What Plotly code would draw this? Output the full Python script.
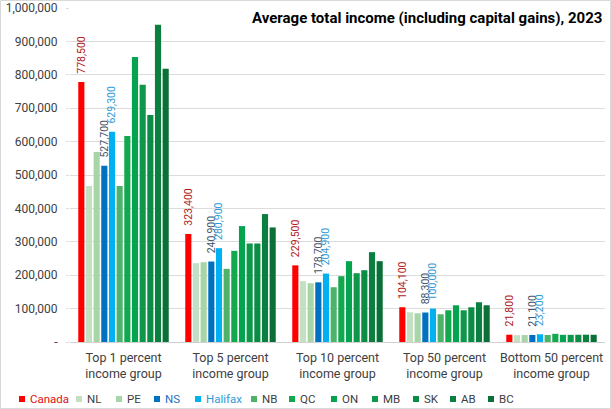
import plotly.graph_objects as go

groups = ["Top 1 percent<br>income group", "Top 5 percent<br>income group", "Top 10 percent<br>income group",
          "Top 50 percent<br>income group", "Bottom 50 percent<br>income group"]

series_names = ["Canada", "NL", "PE", "NS", "Halifax", "NB", "QC", "ON", "MB", "SK", "AB", "BC"]

canada  = [778500, 323400, 229500, 104100, 21800]
nl      = [467000, 236000, 182000, 89000, 20500]
pe      = [569000, 239000, 176000, 86000, 20800]
ns      = [527700, 240900, 178700, 88300, 21100]
halifax = [629300, 280900, 204900, 100000, 23200]
nb      = [467000, 219000, 164000, 83000, 21000]
qc      = [617000, 273000, 197000, 95000, 24500]
on      = [853000, 347000, 242000, 110000, 21500]
mb      = [770000, 295000, 206000, 95000, 21500]
sk      = [680000, 295000, 215000, 104000, 21700]
ab      = [950000, 383000, 269000, 119000, 21900]
bc      = [818000, 343000, 242000, 110000, 21600]

values = [canada, nl, pe, ns, halifax, nb, qc, on, mb, sk, ab, bc]

colors = ["#FF0000", "#C3E0C3", "#A8D5A8", "#0070C0", "#00B0F0", "#4DB36A",
          "#12A84E", "#03A350", "#0C9848", "#0B8C44", "#0A7F3F", "#0A7037"]
label_colors = {"Canada": "#B02020", "NS": "#44546A", "Halifax": "#2E9AD8"}
legend_text_colors = {"Canada": "#E01010", "NS": "#1F6FC0", "Halifax": "#2E9AD8"}

# legend entry positions (pixels, square left edge) in the 611px-wide figure
legend_px = [19, 76, 116, 154, 195, 251, 289, 331, 372, 413, 450, 488]

FONT = "Roboto, Arial, sans-serif"
L, R, T, B = 70, 6, 8, 67
W, H = 611, 409
PW, PH = W - L - R, H - T - B

def px_x(p):
    return (p - L) / PW

def px_y(p):
    return (H - B - p) / PH

fig = go.Figure()
for name, vals, col in zip(series_names, values, colors):
    show_lbl = name in label_colors
    fig.add_trace(go.Bar(
        x=groups, y=vals, name=name, marker=dict(color=col, line=dict(width=0)),
        text=["\u00a0\u00a0" + f"{v:,}" for v in vals] if show_lbl else None,
        textposition="outside" if show_lbl else "none",
        textangle=-90,
        constraintext="none",
        cliponaxis=False,
        textfont=dict(size=10.5, color=label_colors.get(name, "#444"), family=FONT),
        showlegend=False,
    ))

annotations = [dict(text="<b>Average total income (including capital gains), 2023</b>",
                    xref="paper", yref="paper", x=px_x(604), y=px_y(18), xanchor="right", yanchor="middle",
                    showarrow=False, font=dict(size=15, color="#000000", family=FONT))]
shapes = [dict(type="rect", xref="paper", yref="paper",
               x0=px_x(0.5), x1=px_x(610.5), y0=px_y(408.5), y1=px_y(0.5),
               line=dict(color="#D9D9D9", width=1))]

for name, col, lx in zip(series_names, colors, legend_px):
    shapes.append(dict(type="rect", xref="paper", yref="paper",
                       x0=px_x(lx), x1=px_x(lx + 6), y0=px_y(402), y1=px_y(396),
                       fillcolor=col, line=dict(width=0)))
    annotations.append(dict(text=name, xref="paper", yref="paper", x=px_x(lx + 9), y=px_y(399),
                            xanchor="left", yanchor="middle", showarrow=False,
                            font=dict(size=11.5, family=FONT, color=legend_text_colors.get(name, "#404040"))))

tickvals = list(range(0, 1000001, 100000))
ticktext = ["-"] + [f"{v:,}" for v in tickvals[1:]]

fig.update_layout(
    width=W, height=H,
    margin=dict(l=L, r=R, t=T, b=B, autoexpand=False),
    paper_bgcolor="white", plot_bgcolor="white",
    barmode="group", bargap=0.14, bargroupgap=0.2,
    font=dict(family=FONT, size=12, color="#404040"),
    showlegend=False,
    xaxis=dict(showline=True, linecolor="#D0D0D0", linewidth=1, ticks="", automargin=False,
               ticklabelstandoff=4,
               tickfont=dict(size=12.5, color="#404040", family=FONT)),
    yaxis=dict(range=[0, 1000000], tickvals=tickvals, ticktext=ticktext, automargin=False,
               showgrid=True, gridcolor="#DCDCDC", gridwidth=1, zeroline=False,
               ticklabelstandoff=6,
               tickfont=dict(size=12, color="#404040", family=FONT),
               ticks="outside", ticklen=3, tickcolor="#DCDCDC"),
    annotations=annotations,
    shapes=shapes,
)

fig.write_html("out.html", config={"displayModeBar": False},
               post_script="document.body.style.margin='0';document.body.style.overflow='hidden';")
